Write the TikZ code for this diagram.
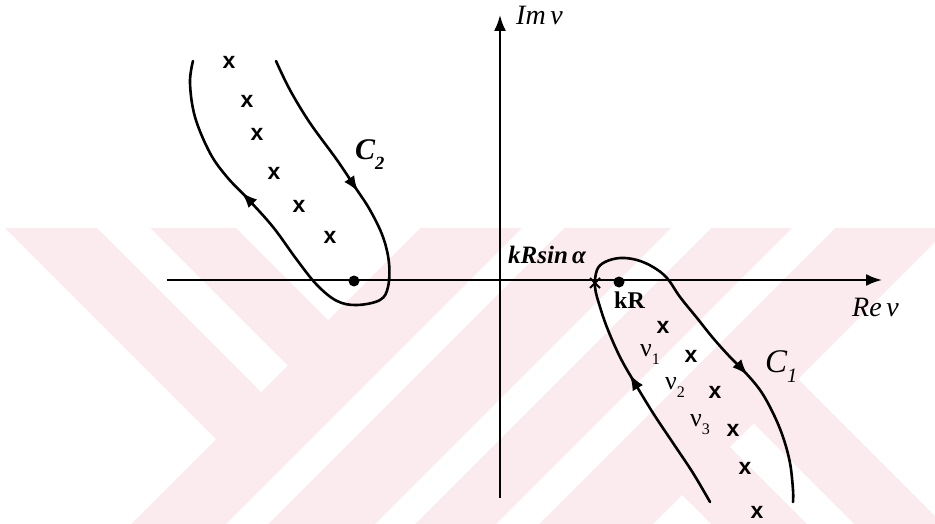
\documentclass[tikz,border=0pt]{standalone}
\usepackage{fontspec}
\setmainfont{Liberation Serif}
\newfontfamily\xsans{Liberation Sans}
\usetikzlibrary{arrows.meta,decorations.markings}
\definecolor{wm}{RGB}{252,235,238}
\newcommand{\lblsub}[2]{#1\raisebox{-0.32em}{\fontsize{0.62em}{0.62em}\selectfont #2}}
\begin{document}
\begin{tikzpicture}[x=1pt,y=-1pt,
  axis/.style={line width=2pt,-{Latex[length=16pt,width=12pt]}},
  contour/.style={line width=2.6pt,line cap=round,line join=round},
  pole/.style={font=\xsans\bfseries\fontsize{23}{23}\selectfont,inner sep=0pt},
  dot/.style={circle,fill=black,inner sep=0pt,minimum size=11pt},
  twoarrows/.style 2 args={postaction={decorate},decoration={markings,
     mark=at position #1 with {\arrow{Latex[length=16pt,width=12pt]}},
     mark=at position #2 with {\arrow{Latex[length=16pt,width=12pt]}}}},
  axlabel/.style={font=\itshape\fontsize{28}{28}\selectfont,inner sep=0pt,anchor=base west},
  nulabel/.style={font=\fontsize{26}{26}\selectfont,inner sep=0pt,anchor=base west}
]
\useasboundingbox (0,0) rectangle (935,524);
\fill[white] (0,0) rectangle (935,524);
% watermark
\begin{scope}
\clip (0,228) rectangle (935,524);
\fill[wm] (0,228) rectangle (935,524);
\fill[white] (0,228) -- (5,228) -- (216,439) -- (131,524) -- (0,524) -- cycle;
\fill[white] (97,228) -- (150,228) -- (287.5,365.5) -- (261,392) -- cycle;
\fill[white] (236,228) -- (420,228) -- (328,320) -- cycle;
\fill[white] (522,228) -- (564,228) -- (268,524) -- (226,524) -- cycle;
\fill[white] (671,228) -- (711,228) -- (415,524) -- (375,524) -- cycle;
\fill[white] (792,228) -- (835,228) -- (539,524) -- (496,524) -- cycle;
\fill[white] (682,495) -- (711,524) -- (653,524) -- cycle;
\fill[white] (730,447) -- (753.5,423.5) -- (854,524) -- (807,524) -- cycle;
\fill[white] (798,379) -- (935,242) -- (935,516) -- cycle;
\end{scope}
% axes
\coordinate (xa) at (167,280);
\coordinate (xb) at (882,280);
\coordinate (ya) at (500,498);
\coordinate (yb) at (500,15);
\draw[axis] (xa) -- (xb);
\draw[axis] (ya) -- (yb);
\node[axlabel] (im) at (516,25) {Im\,ν};
\node[axlabel] (re) at (852,316) {Re\,ν};
% contour C2
\draw[contour,twoarrows={155pt}{463pt}] plot[smooth,tension=0.6] coordinates {
 (276,61) (290,90) (310,123) (337,160) (355,187) (370,210) (383,237) (389,263)
 (388,287) (380,300) (357,305) (337,301) (317,285) (297,260) (273,227) (247,198)
 (227,177) (210,153) (195,117) (190,83) (193,61)};
% contour C1
\draw[contour,twoarrows={151pt}{469pt}] plot[smooth,tension=0.6] coordinates {
 (710,502) (693,473) (673,443) (653,413) (633,380) (620,357) (608,330) (600,307)
 (595,287) (597,270) (605,262) (620,258) (637,260) (653,267) (667,278) (680,297)
 (697,318) (713,338) (730,357) (743,370) (760,390) (773,413) (783,437) (790,463)
 (793,490) (793,502)};
% dots
\node[dot] (p2) at (354,281) {};
\node[dot] (p1) at (619,282) {};
\coordinate (sx) at (595,283);
\draw[line width=1.8pt] ([shift={(-5,-5)}]sx) -- ([shift={(5,5)}]sx);
\draw[line width=1.8pt] ([shift={(-5,5)}]sx) -- ([shift={(5,-5)}]sx);
% labels
\node[font=\bfseries\itshape\fontsize{30}{30}\selectfont,inner sep=0pt,anchor=base west] (c2) at (355,160) {\lblsub{C}{2}};
\node[font=\itshape\fontsize{33}{33}\selectfont,inner sep=0pt,anchor=base west] (c1) at (765,372) {\lblsub{C}{\textit{1}}};
\node[font=\bfseries\itshape\fontsize{25}{25}\selectfont,inner sep=0pt,anchor=base west] (ks) at (508,263) {kRsin\,α};
\node[font=\bfseries\fontsize{24}{24}\selectfont,inner sep=0pt,anchor=base west] (kr) at (614,308) {kR};
\node[nulabel] (n1) at (640,356) {\lblsub{ν}{1}};
\node[nulabel] (n2) at (665,389) {\lblsub{ν}{2}};
\node[nulabel] (n3) at (690,426) {\lblsub{ν}{3}};
% poles
\foreach \i/\px/\py in {a/229/62, b/247/101, c/257/134, d/274/173, e/299/206, f/330/237,
  g/663/327, h/691/356, i/715/392, j/733/430, k/745/468, l/757/512}
  \node[pole] (x\i) at (\px,\py) {x};
\end{tikzpicture}
\end{document}
